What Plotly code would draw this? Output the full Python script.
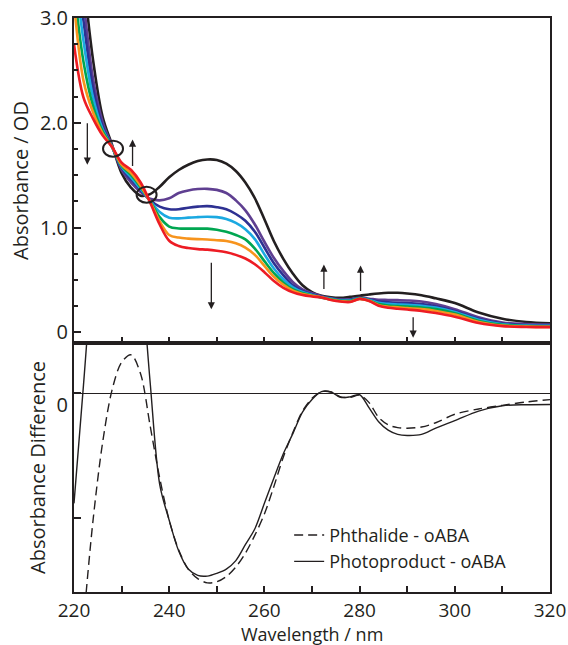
import plotly.graph_objects as go
from plotly.subplots import make_subplots

# ---------------- data ----------------
wavelength = [220, 222, 224, 226, 228, 230, 232, 234, 236, 238, 240, 242, 244, 246, 248,
              250, 252, 254, 256, 258, 260, 262, 264, 266, 268, 270, 272, 274, 276, 278,
              280, 282, 284, 286, 288, 290, 293, 296, 300, 305, 310, 315, 320]

abs_black = [4.2, 3.38, 2.6, 2.06, 1.79, 1.52, 1.38, 1.305, 1.32, 1.39, 1.48, 1.55, 1.60, 1.635, 1.65,
             1.645, 1.61, 1.54, 1.43, 1.28, 1.08, 0.87, 0.70, 0.56, 0.45, 0.385, 0.35, 0.335, 0.33, 0.34,
             0.35, 0.362, 0.372, 0.378, 0.378, 0.372, 0.355, 0.325, 0.28, 0.19, 0.13, 0.10, 0.088]
abs_purple = [3.95, 3.16, 2.42, 2.01, 1.78, 1.55, 1.43, 1.34, 1.275, 1.26, 1.28, 1.33, 1.355, 1.368, 1.37,
              1.36, 1.33, 1.26, 1.165, 1.03, 0.865, 0.71, 0.585, 0.48, 0.41, 0.375, 0.345, 0.325, 0.315, 0.315,
              0.33, 0.322, 0.312, 0.31, 0.308, 0.305, 0.295, 0.27, 0.222, 0.145, 0.095, 0.08, 0.075]
abs_navy = [3.72, 2.97, 2.33, 1.97, 1.77, 1.57, 1.46, 1.36, 1.26, 1.20, 1.175, 1.175, 1.19, 1.20, 1.205,
            1.195, 1.175, 1.13, 1.065, 0.96, 0.81, 0.66, 0.545, 0.45, 0.395, 0.365, 0.34, 0.322, 0.31, 0.31,
            0.328, 0.315, 0.295, 0.288, 0.283, 0.28, 0.27, 0.25, 0.205, 0.13, 0.085, 0.07, 0.067]
abs_sky = [3.55, 2.78, 2.24, 1.94, 1.77, 1.58, 1.48, 1.37, 1.255, 1.15, 1.095, 1.088, 1.095, 1.10, 1.104,
           1.10, 1.082, 1.045, 0.985, 0.89, 0.745, 0.61, 0.505, 0.43, 0.385, 0.358, 0.335, 0.32, 0.305, 0.305,
           0.325, 0.31, 0.282, 0.272, 0.267, 0.263, 0.255, 0.237, 0.195, 0.12, 0.078, 0.065, 0.062]
abs_green = [3.3, 2.58, 2.16, 1.92, 1.77, 1.59, 1.50, 1.385, 1.25, 1.10, 1.01, 0.992, 0.99, 0.99, 0.99,
             0.98, 0.96, 0.93, 0.888, 0.80, 0.68, 0.565, 0.475, 0.41, 0.375, 0.352, 0.332, 0.315, 0.302, 0.30,
             0.322, 0.305, 0.27, 0.257, 0.251, 0.246, 0.238, 0.222, 0.182, 0.11, 0.072, 0.06, 0.057]
abs_orange = [3.15, 2.40, 2.10, 1.90, 1.77, 1.60, 1.52, 1.40, 1.245, 1.06, 0.93, 0.905, 0.895, 0.89, 0.887,
              0.88, 0.872, 0.85, 0.81, 0.74, 0.635, 0.53, 0.455, 0.398, 0.367, 0.35, 0.335, 0.312, 0.298, 0.293,
              0.32, 0.302, 0.26, 0.245, 0.24, 0.232, 0.222, 0.205, 0.17, 0.10, 0.065, 0.055, 0.053]
abs_red = [2.75, 2.24, 2.04, 1.88, 1.77, 1.62, 1.55, 1.43, 1.24, 1.03, 0.875, 0.825, 0.805, 0.795, 0.79,
           0.78, 0.765, 0.74, 0.705, 0.65, 0.575, 0.49, 0.425, 0.382, 0.357, 0.343, 0.333, 0.31, 0.295, 0.29,
           0.32, 0.30, 0.255, 0.235, 0.226, 0.218, 0.205, 0.185, 0.15, 0.09, 0.06, 0.052, 0.05]

spectra_names = ["Spectrum 1", "Spectrum 2", "Spectrum 3", "Spectrum 4",
                 "Spectrum 5", "Spectrum 6", "Spectrum 7"]
spectra_colors = ["#231f20", "#5f3f91", "#2e3192", "#1ba9e1", "#00a651", "#f7941d", "#ed1c24"]

diff_wavelength = [220, 222, 224, 226, 228, 230, 232, 234, 236, 238, 240, 242, 244, 246, 248,
                   250, 252, 254, 256, 258, 260, 262, 264, 266, 268, 270, 272, 274, 276, 278,
                   280, 282, 284, 286, 288, 290, 293, 296, 300, 305, 310, 315, 320]
phthalide_minus_oaba = [-1.6, -1.08, -0.60, -0.235, 0.015, 0.145, 0.18, 0.09, -0.155, -0.40, -0.60, -0.74, -0.83, -0.875, -0.895,
                        -0.89, -0.865, -0.82, -0.755, -0.67, -0.57, -0.44, -0.30, -0.185, -0.085, -0.025, 0.006, 0.005, -0.018, -0.02,
                        -0.01, -0.045, -0.115, -0.15, -0.163, -0.166, -0.16, -0.14, -0.10, -0.075, -0.058, -0.042, -0.031]
photoproduct_minus_oaba = [-0.52, 0.04, 0.6, 0.95, 1.15, 1.2, 1.0, 0.6, 0.05, -0.43, -0.60, -0.745, -0.83, -0.86, -0.863,
                           -0.85, -0.83, -0.79, -0.715, -0.64, -0.52, -0.40, -0.285, -0.19, -0.09, -0.03, 0.007, 0.005, -0.02, -0.018,
                           -0.008, -0.07, -0.135, -0.175, -0.195, -0.2, -0.195, -0.165, -0.13, -0.085, -0.06, -0.055, -0.054]

# isosbestic points (wavelength, absorbance)
isosbestic_wl = [228.2, 235.25]
isosbestic_abs = [1.753, 1.314]

# arrows: (wavelength, absorbance at head, tail offset in px)
arrow_wl = [222.8, 232.3, 248.85, 272.5, 280.2, 291.25]
arrow_abs = [1.60, 1.84, 0.22, 0.647, 0.638, -0.05]
arrow_len = [-43, 28, -48, 26, 27, -22]

# ---------------- figure ----------------
INK = "#231f20"
FONT = "Open Sans"

fig = make_subplots(rows=2, cols=1, shared_xaxes=True, vertical_spacing=0,
                    row_heights=[325, 249])

series = [abs_black, abs_purple, abs_navy, abs_sky, abs_green, abs_orange, abs_red]
for name, color, ys in zip(spectra_names, spectra_colors, series):
    fig.add_trace(go.Scatter(x=wavelength, y=ys, mode="lines", name=name,
                             line=dict(color=color, width=2.6, shape="spline", smoothing=1.0),
                             showlegend=False, hoverinfo="skip"), row=1, col=1)

fig.add_trace(go.Scatter(x=diff_wavelength, y=phthalide_minus_oaba, mode="lines",
                         name="Phthalide - oABA",
                         line=dict(color=INK, width=1.4, dash="9px,5px", shape="spline", smoothing=0.9)),
              row=2, col=1)
fig.add_trace(go.Scatter(x=diff_wavelength, y=photoproduct_minus_oaba, mode="lines",
                         name="Photoproduct - oABA",
                         line=dict(color=INK, width=1.4, shape="spline", smoothing=0.9)),
              row=2, col=1)

for xw, ya in zip(isosbestic_wl, isosbestic_abs):
    fig.add_shape(type="circle", xref="x", yref="y", xsizemode="pixel", ysizemode="pixel",
                  xanchor=xw, yanchor=ya, x0=-10, x1=10, y0=-8, y1=8,
                  line=dict(color=INK, width=2))

for xw, ya, al in zip(arrow_wl, arrow_abs, arrow_len):
    fig.add_annotation(x=xw, y=ya, xref="x", yref="y", text="", showarrow=True,
                       ax=0, ay=al, arrowhead=2, arrowsize=1.1, arrowwidth=1.3,
                       arrowcolor=INK)

# x-axis title placed just under the tick labels (as in the reference)
fig.add_annotation(text="Wavelength / nm", xref="paper", yref="paper", x=0.5, y=-0.0725,
                   xanchor="center", yanchor="middle", showarrow=False,
                   font=dict(family=FONT, size=18, color=INK))

axis_common = dict(showgrid=False, showline=True, linecolor=INK, linewidth=2,
                   mirror=True, ticks="inside", tickcolor=INK, tickwidth=1.5,
                   automargin=False,
                   tickfont=dict(family=FONT, size=20, color=INK))

fig.update_xaxes(range=[220, 320], dtick=10, tick0=220, ticklen=6,
                 showticklabels=False, zeroline=False, **axis_common, row=1, col=1)
fig.update_xaxes(range=[220, 320], tickvals=[220, 240, 260, 280, 300, 320], ticklen=6,
                 minor=dict(tickvals=[230, 250, 270, 290, 310], ticks="inside", ticklen=6,
                            tickcolor=INK, tickwidth=1.5),
                 zeroline=False,
                 **axis_common, row=2, col=1)
fig.update_xaxes(tickfont=dict(family=FONT, size=19, color=INK), row=2, col=1)

fig.update_yaxes(range=[-0.101, 3.0], tickvals=[0, 1, 2, 3], ticktext=["0", "1.0", "2.0", "3.0"],
                 ticklen=7, zeroline=False,
                 minor=dict(dtick=0.25, tick0=0, ticks="inside", ticklen=4, tickcolor=INK, tickwidth=1.5),
                 title=dict(text="Absorbance / OD", font=dict(family=FONT, size=20, color=INK),
                            standoff=6),
                 **axis_common, row=1, col=1)
fig.update_yaxes(range=[-0.938, 0.236], tickvals=[0, -0.591], ticktext=["0", ""],
                 ticklen=7, ticklabelshift=12,
                 zeroline=True, zerolinecolor=INK, zerolinewidth=1.3,
                 title=dict(text="Absorbance Difference", font=dict(family=FONT, size=20, color=INK),
                            standoff=6),
                 **axis_common, row=2, col=1)

fig.update_layout(
    width=568, height=645,
    margin=dict(l=74, r=18, t=18, b=53, autoexpand=False),
    plot_bgcolor="white", paper_bgcolor="white",
    font=dict(family=FONT, color=INK),
    showlegend=True,
    legend=dict(x=0.452, y=0.131, xanchor="left", yanchor="top",
                font=dict(family=FONT, size=18, color=INK),
                bgcolor="rgba(0,0,0,0)", borderwidth=0, tracegroupgap=0),
)

fig.write_html("out.html")
